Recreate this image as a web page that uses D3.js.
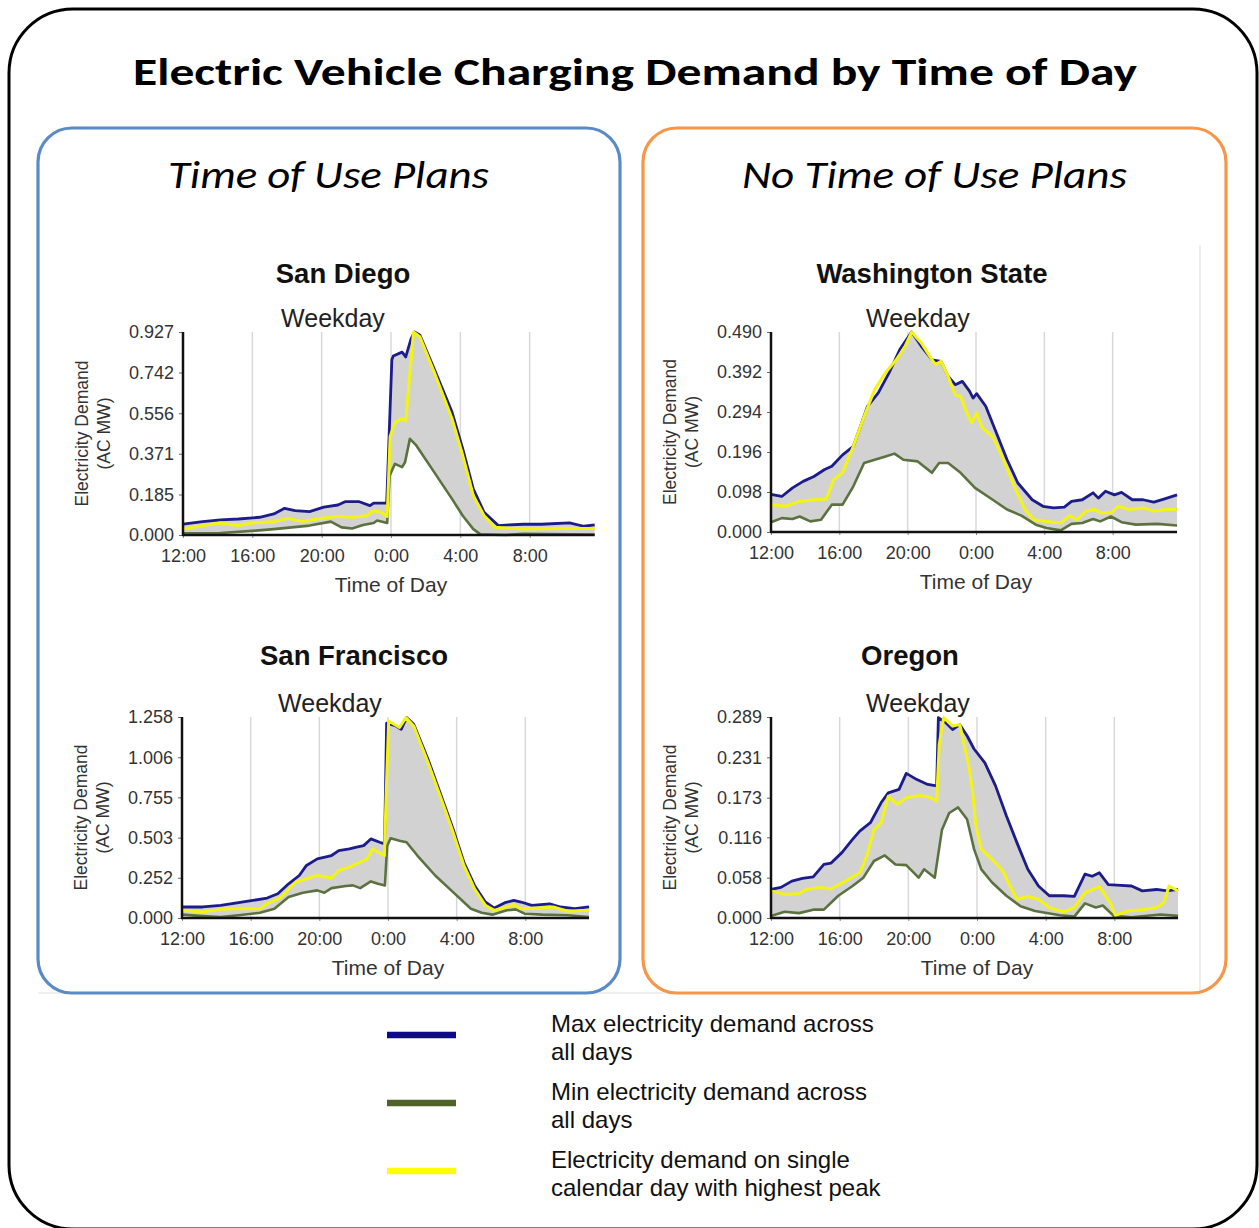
<!DOCTYPE html>
<html>
<head>
<meta charset="utf-8">
<script src="https://cdn.jsdelivr.net/npm/d3@7"></script>
<style>
  html, body { margin: 0; padding: 0; background: #fff; }
  svg { display: block; }
</style>
</head>
<body>
<svg id="chart" width="1259" height="1228"></svg>
<script>
// ---------- DATA (hours after 12:00 noon, demand in AC MW) ----------
const xTickHours = [0, 4, 8, 12, 16, 20];
const xTickLabels = ["12:00", "16:00", "20:00", "0:00", "4:00", "8:00"];

const sdYTicks = [0, 0.185, 0.371, 0.556, 0.742, 0.927];
const waYTicks = [0, 0.098, 0.196, 0.294, 0.392, 0.490];
const sfYTicks = [0, 0.252, 0.503, 0.755, 1.006, 1.258];
const orYTicks = [0, 0.058, 0.116, 0.173, 0.231, 0.289];

const sdMax = [[0,.050],[1.13,.061],[2.16,.069],[3.19,.073],[4.42,.081],[5.24,.096],[5.86,.122],[6.47,.111],[7.30,.107],[8.12,.127],[8.94,.137],[9.35,.152],[10.17,.152],[10.79,.134],[11.00,.146],[11.75,.146],[12.05,.800],[12.13,.817],[12.64,.835],[12.85,.813],[13.16,.897],[13.36,.927],[13.67,.912],[14.49,.759],[15.52,.561],[16.14,.393],[16.75,.210],[17.37,.104],[18.19,.043],[18.81,.046],[19.63,.049],[20.66,.049],[22.30,.055],[23.12,.040],[23.75,.046]];
const sdPeak = [[0,.027],[1.13,.043],[2.16,.055],[3.19,.043],[4.01,.055],[5.24,.061],[6.06,.076],[6.89,.061],[7.71,.073],[8.94,.085],[9.76,.081],[10.59,.088],[11.00,.111],[11.41,.104],[11.78,.085],[11.95,.450],[12.23,.515],[12.64,.531],[12.85,.520],[13.30,.927],[13.67,.904],[14.49,.744],[15.52,.531],[16.14,.363],[16.75,.180],[17.37,.088],[17.99,.035],[19.63,.027],[21.69,.030],[23.75,.030]];
const sdMin = [[0,.008],[2.16,.009],[4.21,.020],[5.24,.027],[6.27,.035],[7.30,.043],[8.53,.061],[9.15,.035],[9.76,.030],[10.38,.046],[11.00,.055],[11.20,.066],[11.78,.055],[11.92,.271],[12.23,.325],[12.64,.310],[12.81,.332],[13.09,.439],[13.46,.409],[14.49,.287],[15.52,.165],[16.14,.088],[16.75,.027],[17.16,.003],[18.60,0],[19.63,.005],[23.75,.002]];

const waMax = [[0,.092],[0.63,.087],[1.26,.108],[1.88,.124],[2.51,.136],[3.14,.153],[3.56,.161],[4.19,.189],[4.82,.210],[5.24,.259],[5.65,.308],[6.28,.341],[6.91,.390],[7.54,.447],[8.23,.490],[8.80,.455],[9.42,.422],[9.95,.418],[10.37,.381],[10.79,.361],[11.20,.369],[11.62,.345],[11.83,.328],[12.04,.339],[12.57,.308],[13.19,.243],[13.82,.177],[14.45,.120],[15.29,.079],[15.92,.063],[16.54,.059],[17.17,.061],[17.59,.075],[18.22,.079],[18.85,.096],[19.16,.083],[19.58,.100],[20.10,.091],[20.52,.097],[21.15,.079],[21.78,.079],[22.41,.073],[23.04,.081],[23.77,.091]];
const waPeak = [[0,.067],[0.84,.063],[1.68,.075],[2.51,.079],[3.25,.081],[3.66,.128],[4.19,.145],[4.82,.210],[5.45,.283],[6.07,.349],[6.70,.390],[7.33,.422],[7.85,.455],[8.23,.490],[8.80,.463],[9.42,.422],[9.63,.410],[9.95,.418],[10.37,.381],[10.79,.336],[11.10,.332],[11.31,.308],[11.73,.267],[12.04,.292],[12.36,.255],[12.98,.234],[13.61,.177],[14.24,.112],[14.87,.055],[15.39,.030],[16.13,.026],[16.96,.022],[17.49,.040],[17.91,.030],[18.43,.051],[18.95,.055],[19.27,.047],[19.90,.047],[20.31,.063],[20.94,.055],[21.78,.059],[22.41,.051],[23.04,.055],[23.77,.056]];
const waMin = [[0,.024],[0.63,.034],[1.26,.032],[1.68,.038],[2.30,.026],[2.93,.030],[3.56,.067],[4.19,.067],[4.82,.112],[5.45,.169],[6.07,.177],[6.70,.185],[7.23,.192],[7.75,.177],[8.59,.173],[9.42,.145],[9.84,.169],[10.37,.169],[11.10,.145],[11.94,.108],[12.98,.079],[13.82,.055],[14.66,.040],[15.50,.018],[16.13,.010],[16.96,.004],[17.59,.020],[18.22,.022],[18.85,.032],[19.27,.026],[19.90,.038],[20.52,.024],[21.36,.018],[22.62,.020],[23.77,.016]];

const sfMax = [[0,.069],[1.21,.069],[2.25,.079],[3.29,.096],[4.13,.110],[4.96,.125],[5.58,.152],[6.21,.214],[6.83,.266],[7.25,.329],[7.88,.370],[8.71,.391],[9.13,.422],[9.75,.432],[10.17,.443],[10.58,.453],[11.00,.495],[11.52,.474],[11.80,.464],[11.92,1.220],[12.46,1.202],[12.77,1.181],[13.08,1.254],[13.50,1.212],[14.33,.994],[15.17,.744],[15.79,.557],[16.42,.349],[17.04,.204],[17.67,.100],[18.19,.062],[18.81,.096],[19.33,.110],[19.75,.100],[20.38,.079],[21.42,.089],[22.04,.069],[22.88,.058],[23.71,.069]];
const sfPeak = [[0,.048],[1.21,.037],[2.25,.054],[3.29,.058],[4.54,.058],[4.96,.089],[5.79,.131],[6.63,.225],[7.25,.245],[7.88,.266],[8.71,.250],[9.13,.297],[9.75,.318],[10.38,.349],[10.79,.370],[11.10,.432],[11.42,.412],[11.79,.391],[11.90,.800],[12.04,1.233],[12.67,1.192],[13.04,1.254],[13.50,1.202],[14.33,.973],[15.17,.724],[15.79,.536],[16.42,.329],[17.04,.183],[17.67,.079],[18.19,.048],[18.92,.069],[19.33,.083],[19.75,.058],[20.79,.062],[21.63,.069],[22.46,.042],[23.71,.048]];
const sfMin = [[0,.021],[1.21,.012],[2.25,.006],[3.29,.017],[4.54,.033],[5.38,.058],[6.21,.131],[7.04,.158],[7.88,.173],[8.29,.158],[8.71,.187],[9.54,.200],[9.96,.204],[10.38,.187],[11.00,.229],[11.42,.214],[11.82,.204],[11.95,.450],[12.15,.499],[12.67,.484],[13.08,.474],[13.71,.391],[14.75,.266],[15.79,.162],[16.83,.058],[17.46,.033],[18.08,.021],[18.92,.048],[19.44,.054],[19.96,.027],[21.00,.021],[22.46,.017],[23.71,.006]];

const orMax = [[0,.041],[0.58,.044],[1.21,.053],[1.83,.057],[2.46,.059],[3.08,.077],[3.50,.079],[4.13,.094],[4.75,.113],[5.17,.125],[5.79,.137],[6.42,.166],[6.83,.180],[7.46,.185],[7.88,.208],[8.50,.199],[9.13,.192],[9.65,.190],[9.75,.288],[10.17,.281],[10.58,.271],[11.00,.278],[11.42,.262],[11.83,.243],[12.46,.223],[13.08,.190],[13.71,.147],[14.33,.108],[14.96,.070],[15.58,.046],[16.21,.032],[17.04,.032],[17.67,.031],[18.29,.063],[18.71,.060],[19.13,.065],[19.65,.048],[20.38,.047],[21.00,.046],[21.63,.039],[22.46,.041],[23.08,.039],[23.71,.041]];
const orPeak = [[0,.039],[0.79,.034],[1.63,.035],[2.04,.041],[2.88,.044],[3.50,.042],[4.33,.053],[5.17,.065],[5.58,.089],[6.00,.127],[6.42,.137],[6.83,.175],[7.35,.163],[7.88,.173],[8.71,.176],[9.33,.173],[9.65,.168],[9.80,.250],[10.06,.288],[10.58,.276],[11.00,.278],[11.52,.219],[11.73,.185],[11.94,.132],[12.25,.099],[12.88,.084],[13.50,.068],[13.92,.046],[14.33,.027],[14.96,.031],[15.58,.027],[16.21,.015],[17.04,.009],[17.67,.015],[18.29,.036],[19.13,.045],[19.75,.022],[20.06,.004],[20.79,.010],[21.63,.012],[22.46,.015],[22.88,.022],[23.19,.046],[23.71,.039]];
const orMin = [[0,.003],[0.79,.009],[1.63,.007],[2.46,.012],[3.08,.012],[3.92,.032],[4.75,.046],[5.38,.058],[6.00,.082],[6.63,.090],[7.25,.077],[7.88,.076],[8.60,.058],[8.92,.070],[9.54,.058],[9.96,.127],[10.38,.151],[10.90,.159],[11.42,.142],[11.83,.099],[12.25,.070],[12.88,.051],[13.71,.032],[14.54,.017],[15.38,.010],[16.83,.004],[17.67,.002],[18.29,.021],[18.92,.015],[19.33,.018],[19.96,.003],[21.00,.001],[22.67,.005],[23.71,.003]];

const legendLabels = [
  ["Max electricity demand across", "all days"],
  ["Min electricity demand across", "all days"],
  ["Electricity demand on single", "calendar day with highest peak"]
];

// ---------- STYLE / LAYOUT ----------
const COL_MAX = "#1c1c8c", COL_MIN = "#5b7240", COL_PEAK = "#f4f414", COL_FILL = "#d2d2d2";
const LEG_COLORS = ["#0c0c84", "#4f6228", "#ffff00"];
const CHART_FONT = "'Liberation Sans', Arial, Helvetica, sans-serif";
const HEAD_FONT = "Carlito, Lato, 'Open Sans', sans-serif";

const charts = [
  { title: "San Diego", max: sdMax, min: sdMin, peak: sdPeak, yTicks: sdYTicks,
    left: 183, right: 599, top: 332, bottom: 535, titleX: 343, titleY: 283, wkX: 333, wkY: 327 },
  { title: "Washington State", max: waMax, min: waMin, peak: waPeak, yTicks: waYTicks,
    left: 771, right: 1181, top: 332, bottom: 532, titleX: 932, titleY: 283, wkX: 918, wkY: 327 },
  { title: "San Francisco", max: sfMax, min: sfMin, peak: sfPeak, yTicks: sfYTicks,
    left: 182, right: 594, top: 717, bottom: 918, titleX: 354, titleY: 665, wkX: 330, wkY: 712 },
  { title: "Oregon", max: orMax, min: orMin, peak: orPeak, yTicks: orYTicks,
    left: 771, right: 1183, top: 717, bottom: 918, titleX: 910, titleY: 665, wkX: 918, wkY: 712 }
];

const svg = d3.select("#chart");

// outer frame
svg.append("rect").attr("x", 9).attr("y", 9).attr("width", 1248).attr("height", 1220)
  .attr("rx", 64).attr("ry", 64).attr("fill", "none").attr("stroke", "#000").attr("stroke-width", 3);

// faint divider lines
svg.append("line").attr("x1", 38).attr("x2", 1200).attr("y1", 993).attr("y2", 993)
  .attr("stroke", "#e2e2e2").attr("stroke-width", 1.2);
svg.append("line").attr("x1", 1200).attr("x2", 1200).attr("y1", 245).attr("y2", 992)
  .attr("stroke", "#e2e2e2").attr("stroke-width", 1.2);

// panels
svg.append("rect").attr("x", 38).attr("y", 128).attr("width", 582).attr("height", 865)
  .attr("rx", 34).attr("fill", "none").attr("stroke", "#5a8ac8").attr("stroke-width", 3.2);
svg.append("rect").attr("x", 643).attr("y", 128).attr("width", 583).attr("height", 865)
  .attr("rx", 34).attr("fill", "none").attr("stroke", "#f79646").attr("stroke-width", 3.2);

// headings
svg.append("text").attr("x", 133).attr("y", 85).attr("textLength", 1004).attr("lengthAdjust", "spacingAndGlyphs")
  .attr("font-family", HEAD_FONT).attr("font-weight", "bold").attr("font-size", 39).attr("fill", "#000")
  .text("Electric Vehicle Charging Demand by Time of Day");
svg.append("text").attr("x", 168).attr("y", 188).attr("textLength", 321).attr("lengthAdjust", "spacingAndGlyphs")
  .attr("font-family", HEAD_FONT).attr("font-style", "italic").attr("font-size", 39).attr("fill", "#000")
  .text("Time of Use Plans");
svg.append("text").attr("x", 742).attr("y", 188).attr("textLength", 385).attr("lengthAdjust", "spacingAndGlyphs")
  .attr("font-family", HEAD_FONT).attr("font-style", "italic").attr("font-size", 39).attr("fill", "#000")
  .text("No Time of Use Plans");

// ---------- CHARTS ----------
charts.forEach(c => {
  const x = d3.scaleLinear().domain([0, 24]).range([c.left, c.right]);
  const yMax = c.yTicks[c.yTicks.length - 1];
  const y = d3.scaleLinear().domain([0, yMax]).range([c.bottom, c.top]);
  const g = svg.append("g").attr("font-family", CHART_FONT);
  const lastHour = c.max[c.max.length - 1][0];

  // gridlines
  g.selectAll(".grid").data(xTickHours.filter(h => h > 0)).enter().append("line")
    .attr("x1", d => x(d)).attr("x2", d => x(d)).attr("y1", y(yMax)).attr("y2", y(0))
    .attr("stroke", "#d8d8d8").attr("stroke-width", 1.5);

  // fill between max and min
  const line = d3.line().x(d => x(d[0])).y(d => y(d[1]));
  const band = c.max.concat(c.min.slice().reverse());
  g.append("path").attr("d", line(band) + "Z").attr("fill", COL_FILL).attr("stroke", "none");

  // series lines
  [[c.min, COL_MIN, 2.6], [c.max, COL_MAX, 2.8], [c.peak, COL_PEAK, 3]].forEach(([data, col, w]) => {
    g.append("path").attr("d", line(data)).attr("fill", "none").attr("stroke", col)
      .attr("stroke-width", w).attr("stroke-linejoin", "round");
  });

  // y axis
  const yAxis = d3.axisLeft(y).tickValues(c.yTicks).tickFormat(d3.format(".3f"))
    .tickSize(4).tickSizeOuter(0).tickPadding(5);
  const ya = g.append("g").attr("transform", `translate(${c.left},0)`).call(yAxis);
  ya.select(".domain").remove();
  ya.selectAll("text").attr("font-size", 18).attr("fill", "#333").attr("font-family", CHART_FONT);
  ya.selectAll(".tick line").attr("stroke", "#666");

  // x axis
  const xAxis = d3.axisBottom(x).tickValues(xTickHours).tickFormat((d, i) => xTickLabels[i])
    .tickSize(3).tickSizeOuter(0).tickPadding(11);
  const xa = g.append("g").attr("transform", `translate(0,${c.bottom})`).call(xAxis);
  xa.select(".domain").remove();
  xa.selectAll("text").attr("font-size", 18).attr("fill", "#333").attr("font-family", CHART_FONT);
  xa.selectAll(".tick line").attr("stroke", "#888");

  // axis lines
  g.append("line").attr("x1", x(0)).attr("x2", x(0)).attr("y1", y(yMax)).attr("y2", y(0))
    .attr("stroke", "#111").attr("stroke-width", 2.5);
  g.append("line").attr("x1", x(0) - 1).attr("x2", x(lastHour)).attr("y1", y(0)).attr("y2", y(0))
    .attr("stroke", "#111").attr("stroke-width", 2.5);

  // titles
  g.append("text").attr("x", c.titleX).attr("y", c.titleY).attr("text-anchor", "middle")
    .attr("font-weight", "bold").attr("font-size", 27.5).attr("fill", "#111").text(c.title);
  g.append("text").attr("x", c.wkX).attr("y", c.wkY).attr("text-anchor", "middle")
    .attr("font-size", 25).attr("fill", "#222").text("Weekday");
  g.append("text").attr("x", x(12)).attr("y", c.bottom + 57).attr("text-anchor", "middle")
    .attr("font-size", 21).attr("fill", "#333").text("Time of Day");
  const yc = (y(0) + y(yMax)) / 2;
  [["Electricity Demand", 95], ["(AC MW)", 73]].forEach(([t, off]) => {
    g.append("text").attr("transform", `translate(${c.left - off},${yc}) rotate(-90)`)
      .attr("text-anchor", "middle").attr("font-size", 17.5).attr("fill", "#333").text(t);
  });
});

// ---------- LEGEND ----------
const legY = [1035, 1103, 1171];
const lg = svg.append("g").attr("font-family", CHART_FONT);
legendLabels.forEach((lines, i) => {
  lg.append("line").attr("x1", 387).attr("x2", 456).attr("y1", legY[i]).attr("y2", legY[i])
    .attr("stroke", LEG_COLORS[i]).attr("stroke-width", 6.5);
  lines.forEach((t, j) => {
    lg.append("text").attr("x", 551).attr("y", legY[i] - 3 + j * 28)
      .attr("font-size", 24).attr("fill", "#111").text(t);
  });
});
</script>
</body>
</html>
